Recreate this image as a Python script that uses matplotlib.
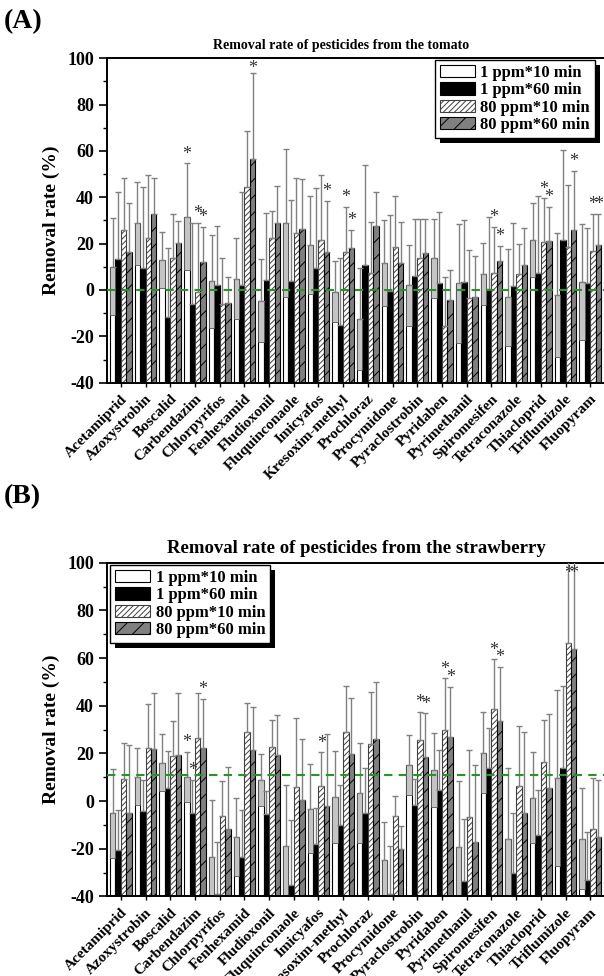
import numpy as np
import matplotlib.pyplot as plt
from matplotlib.patches import Patch, Rectangle

plt.rcParams['font.family'] = ['Liberation Serif', 'DejaVu Serif']
plt.rcParams['font.weight'] = 'bold'
plt.rcParams['hatch.linewidth'] = 0.7
plt.rcParams['axes.unicode_minus'] = False

pesticides = ["Acetamiprid", "Azoxystrobin", "Boscalid", "Carbendazim", "Chlorpyrifos",
              "Fenhexamid", "Fludioxonil", "Fluquinconaole", "Imicyafos", "Kresoxim-methyl",
              "Prochloraz", "Procymidone", "Pyraclostrobin", "Pyridaben", "Pyrimethanil",
              "Spiromesifen", "Tetraconazole", "Thiacloprid", "Triflumizole", "Fluopyram"]
series = ["1 ppm*10 min", "1 ppm*60 min", "80 ppm*10 min", "80 ppm*60 min"]

# (A) tomato
tom_1_10 = [10, 28.8, 13, 31.6, 3.7, 4.9, -4.6, 28.8, 19.4, -0.7, -12.5, 11.5, 2, 13.7, 2.9, 6.9, -3.2, 21.6, -2.2, 3.6]
tom_1_10_err = [21, 18, 12, 23, 20, 17.5, 18, 32, 21, 13, 22, 18.5, 17.5, 17, 25.6, 13.5, 21, 16, 26.7, 25]
tom_1_60 = [13.2, 9.6, -11.5, -6, 2.2, 2.2, 4.3, 4, 9.6, -15, 10.8, -0.6, 6.2, 2.9, 3.3, 0.3, 1.7, 7.5, 21.6, 3.2]
tom_1_60_err = [29, 35, 29.5, 35, 25.5, 40, 29, 35, 34.5, 29, 43, 33, 24.5, 30.6, 27, 31, 27, 33, 39, 23.7]
tom_80_10 = [26, 22.6, 14, -1, -6, 44.6, 22.6, 24.7, 21.6, 16.5, 7.5, 18.7, 14, -15.5, -3.6, 7.2, 6.9, 20.6, 18.7, 16.8]
tom_80_10_err = [22.5, 27, 19, 30, 20, 24, 11.5, 23.5, 28, 19.5, 22, 22, 16.5, 21, 21, 20, 13, 19, 26.6, 16]
tom_80_60 = [16.4, 33, 20.4, 12.2, -5.5, 56.7, 29, 26.3, 16.5, 18, 27.6, 11.5, 15.8, -4.3, -3.2, 12.7, 11, 21.3, 25.9, 19.4]
tom_80_60_err = [21, 15.5, 9.5, 15, 11, 37, 16, 21.5, 22, 8, 14.5, 18, 14.7, 13, 18, 6.3, 15.6, 14.7, 25.5, 13.6]
tom_stars = [(3, 0), (3, 2), (3, 3), (5, 3), (8, 3), (9, 2), (9, 3), (15, 2), (15, 3),
             (17, 2), (17, 3), (18, 1), (18, 3), (19, 2), (19, 3)]

# (B) strawberry
str_1_10 = [-5.2, 10.2, 16.1, 10.2, -23.4, -15, 8.8, -18.9, -3.2, 1.8, 3.5, -24.8, 15.1, 13, -19.4, 20.3, -15.7, 1.4, 9.8, -15.7]
str_1_10_err = [18.5, 12, 12, 10.5, 23.8, 16.5, 11, 25.6, 18.7, 19.3, 21, 16, 12.6, 15.4, 28, 17, 29.4, 19, 37, 21]
str_1_60 = [-20.6, -4.2, 5.3, -5.2, -39, -23.4, -5.6, -35, -18, -10, -4.9, -39, -1.7, 4.6, -33.5, 14, -30, -14.3, 14, -33]
str_1_60_err = [17, 13, 15.7, 14, 22, 19.6, 10, 27, 15, 16.7, 18.6, 20, 10.8, 17, 26, 16.5, 25, 19, 34.4, 20]
str_80_10 = [9.1, 22.4, 18.9, 26.3, -6.3, 29.1, 22.8, 6, 6.4, 28.8, 23.9, -6.3, 25.6, 30, -6.6, 38.5, 6.3, 16.5, 66.4, -11.5]
str_80_10_err = [15.4, 18.3, 14.7, 19.2, 14.7, 12, 11, 29, 14, 19.6, 22, 8.4, 11.9, 21.5, 28, 21, 25, 17.5, 40, 21]
str_80_60 = [-5.2, 21.8, 19.3, 22.1, -11.9, 21.4, 19.3, 0.4, -2, 19.6, 25.9, -20.3, 18.3, 27, -17, 33.7, -4.8, 5.6, 63.6, -15]
str_80_60_err = [28.7, 23.7, 26, 20.7, 26, 18, 17, 25.5, 30, 23.8, 24, 10, 18.5, 21, 32, 22.7, 33.6, 30.8, 40, 24]
str_stars = [(3, 0), (3, 1), (3, 3), (8, 2), (12, 2), (12, 3), (13, 2), (13, 3),
             (15, 2), (15, 3), (18, 2), (18, 3)]

styles = [
    dict(facecolor="white", edgecolor="black", hatch=None),
    dict(facecolor="black", edgecolor="black", hatch=None),
    dict(facecolor="white", edgecolor="#404040", hatch="//////"),
    dict(facecolor="#808080", edgecolor="black", hatch="//"),
]
offsets = [-0.33, -0.11, 0.11, 0.33]
width = 0.22
ymin = -40


def draw_panel(ax, vals, errs, stars, ref, title, title_size, title_x, leg_anchor, leg_loc):
    x = np.arange(len(pesticides))
    for k in range(4):
        v = np.array(vals[k])
        e = np.array(errs[k])
        xs = x + offsets[k]
        ax.bar(xs, v - ymin, bottom=ymin, width=width, linewidth=0.8, zorder=2, **styles[k])
        if k == 0:
            # lower half of the error range shows as a grey band on the open bars
            lo = np.maximum(v - e, ymin)
            ax.bar(xs, v - lo, bottom=lo, width=width, facecolor="#c4c4c4",
                   edgecolor="#555555", linewidth=0.6, zorder=2.5)
        ax.errorbar(xs, v, yerr=[np.zeros_like(e), e], fmt="none", ecolor="#808080",
                    elinewidth=1, capsize=2.2, capthick=1, zorder=3)
    for i, k in stars:
        top = vals[k][i] + errs[k][i]
        ax.text(i + offsets[k], min(top + 0.3, 92), "*", ha="center", va="bottom",
                fontsize=13, fontweight="normal", color="#333333", zorder=4)

    ax.axhline(ref, color="#1f9a1f", linestyle="--", linewidth=1.5, dashes=(4, 3), zorder=3.5)

    ax.set_xlim(-0.56, 19.6)
    ax.set_ylim(-40, 100)
    ax.set_yticks(np.arange(-40, 101, 20))
    ax.set_yticks(np.arange(-40, 101, 10), minor=True)
    ax.set_xticks(x)
    ax.set_xticklabels(pesticides, rotation=45, ha="right", va="top",
                       rotation_mode="anchor", fontsize=11, fontweight="bold")
    ax.tick_params(axis="y", which="major", length=6, width=1.2, labelsize=13)
    ax.tick_params(axis="y", which="minor", length=3, width=1)
    ax.tick_params(axis="x", length=3, width=1, pad=4)
    for lab in ax.get_yticklabels():
        lab.set_fontweight("bold")
    for s in ax.spines.values():
        s.set_linewidth(1.4)
    ax.spines["right"].set_visible(False)
    ax.set_ylabel("Removal rate (%)", fontsize=14, fontweight="bold", labelpad=5)
    ax.set_title(title, fontsize=title_size, fontweight="bold", pad=7, x=title_x)

    handles = [Patch(linewidth=0.8, **styles[k]) for k in range(4)]
    leg = ax.legend(handles, series, loc=leg_loc, bbox_to_anchor=leg_anchor,
                    borderaxespad=0, fancybox=False, framealpha=1,
                    prop={"size": 12, "weight": "bold"}, handlelength=2.1,
                    handleheight=0.75, handletextpad=0.35, labelspacing=0.08,
                    borderpad=0.3)
    leg.get_frame().set_edgecolor("black")
    leg.get_frame().set_linewidth(1)
    leg.set_zorder(5)
    return leg


fig = plt.figure(figsize=(6.04, 9.76), dpi=100)
ax1 = fig.add_axes([0.1772, 0.6079, 0.8245, 0.3324])
ax2 = fig.add_axes([0.1772, 0.0815, 0.8245, 0.3420])

leg1 = draw_panel(ax1, [tom_1_10, tom_1_60, tom_80_10, tom_80_60],
                  [tom_1_10_err, tom_1_60_err, tom_80_10_err, tom_80_60_err],
                  tom_stars, 0, "Removal rate of pesticides from the tomato", 10, 0.47,
                  (0.98, 0.995), "upper right")
leg2 = draw_panel(ax2, [str_1_10, str_1_60, str_80_10, str_80_60],
                  [str_1_10_err, str_1_60_err, str_80_10_err, str_80_60_err],
                  str_stars, 11, "Removal rate of pesticides from the strawberry", 13.5, 0.5,
                  (0.006, 0.993), "upper left")

# solid black drop shadow behind each legend box, offset a few pixels
fig.canvas.draw()
for ax, leg in [(ax1, leg1), (ax2, leg2)]:
    bb = leg.get_window_extent().transformed(ax.transAxes.inverted())
    dx = 5 / (ax.bbox.width)
    dy = 5 / (ax.bbox.height)
    ax.add_patch(Rectangle((bb.x0 + dx, bb.y0 - dy), bb.width, bb.height,
                           transform=ax.transAxes, facecolor="black", edgecolor="none",
                           zorder=4.9, clip_on=False))

fig.text(0.006, 0.978, "(A)", fontsize=20, fontweight="bold", va="center")
fig.text(0.006, 0.491, "(B)", fontsize=20, fontweight="bold", va="center")

fig.savefig("out.png", dpi=100)
